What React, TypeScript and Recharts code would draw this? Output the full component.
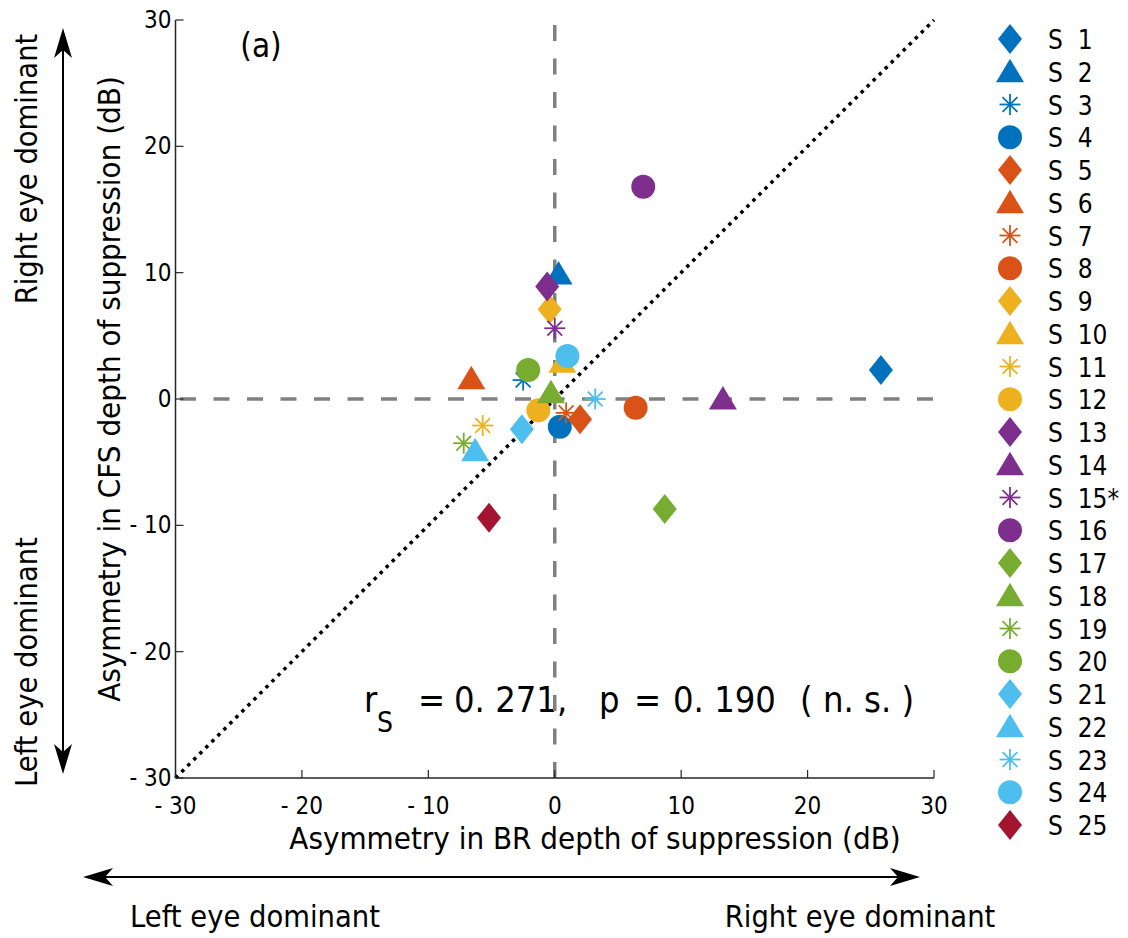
import { ScatterChart, Scatter, XAxis, YAxis, ReferenceLine } from "recharts";

const subjects = [
  "S  1", "S  2", "S  3", "S  4", "S  5", "S  6", "S  7", "S  8", "S  9", "S  10",
  "S  11", "S  12", "S  13", "S  14", "S  15*", "S  16", "S  17", "S  18", "S  19", "S  20",
  "S  21", "S  22", "S  23", "S  24", "S  25",
];
const asymBR = [
  25.8, 0.3, -2.5, 0.4, 2.0, -6.6, 0.9, 6.4, -0.4, 0.6,
  -5.7, -1.3, -0.6, 13.3, 0.0, 7.0, 8.7, -0.3, -7.2, -2.1,
  -2.6, -6.3, 3.2, 1.0, -5.2,
];
const asymCFS = [
  2.3, 9.9, 1.5, -2.2, -1.6, 1.6, -1.1, -0.7, 7.1, 2.9,
  -2.1, -0.9, 8.9, 0.0, 5.6, 16.8, -8.7, 0.5, -3.5, 2.3,
  -2.4, -4.1, 0.0, 3.4, -9.4,
];
const colors = [
  "#0072BD", "#0072BD", "#0072BD", "#0072BD",
  "#D95319", "#D95319", "#D95319", "#D95319",
  "#EDB120", "#EDB120", "#EDB120", "#EDB120",
  "#7E2F8E", "#7E2F8E", "#7E2F8E", "#7E2F8E",
  "#77AC30", "#77AC30", "#77AC30", "#77AC30",
  "#4DBEEE", "#4DBEEE", "#4DBEEE", "#4DBEEE",
  "#A2142F",
];
const markers = [
  "diamond", "triangle", "asterisk", "circle",
  "diamond", "triangle", "asterisk", "circle",
  "diamond", "triangle", "asterisk", "circle",
  "diamond", "triangle", "asterisk", "circle",
  "diamond", "triangle", "asterisk", "circle",
  "diamond", "triangle", "asterisk", "circle",
  "diamond",
];
const axisTicks = [-30, -20, -10, 0, 10, 20, 30];

const FONT = "'DejaVu Sans Condensed', 'DejaVu Sans', sans-serif";
const AXIS_COLOR = "#262626";

function Marker({ kind, cx, cy, color }: { kind: string; cx: number; cy: number; color: string }) {
  if (kind === "diamond") {
    return <polygon points={`${cx},${cy - 15} ${cx + 12},${cy} ${cx},${cy + 15} ${cx - 12},${cy}`} fill={color} />;
  }
  if (kind === "triangle") {
    return <polygon points={`${cx},${cy - 13} ${cx + 14},${cy + 10.5} ${cx - 14},${cy + 10.5}`} fill={color} />;
  }
  if (kind === "circle") {
    return <circle cx={cx} cy={cy} r={12} fill={color} />;
  }
  const r = 10.5;
  const d = r * 0.7071;
  return (
    <g stroke={color} strokeWidth={1.8}>
      <line x1={cx} y1={cy - r} x2={cx} y2={cy + r} />
      <line x1={cx - r} y1={cy} x2={cx + r} y2={cy} />
      <line x1={cx - d} y1={cy - d} x2={cx + d} y2={cy + d} />
      <line x1={cx - d} y1={cy + d} x2={cx + d} y2={cy - d} />
    </g>
  );
}

const fmt = (v: number) => (v < 0 ? `- ${Math.abs(v)}` : `${v}`);

function XTick(props: any) {
  const { x, y, payload } = props;
  return (
    <g>
      <line x1={x} y1={y} x2={x} y2={y - 8} stroke={AXIS_COLOR} strokeWidth={1.2} />
      <text x={x} y={y + 28} textAnchor="middle" dominantBaseline="central" fontSize={24} fontFamily={FONT} fill="#000">
        {fmt(payload.value)}
      </text>
    </g>
  );
}

function YTick(props: any) {
  const { x, y, payload } = props;
  return (
    <g>
      <line x1={x} y1={y} x2={x + 8} y2={y} stroke={AXIS_COLOR} strokeWidth={1.2} />
      <text x={x - 4} y={y} textAnchor="end" dominantBaseline="central" fontSize={24} fontFamily={FONT} fill="#000">
        {fmt(payload.value)}
      </text>
    </g>
  );
}

function ArrowHead({ x, y, angle }: { x: number; y: number; angle: number }) {
  return (
    <path
      d="M0,0 L-30,-9 L-22,0 L-30,9 Z"
      fill="#000"
      transform={`translate(${x},${y}) rotate(${angle})`}
    />
  );
}

export default function App() {
  return (
    <div style={{ position: "absolute", left: 0, top: 0, width: 1128, height: 938, background: "#fff" }}>
      <svg width={1128} height={938} style={{ position: "absolute", left: 0, top: 0 }} fontFamily={FONT}>
        <text x={261} y={45} fontSize={33} textAnchor="middle" dominantBaseline="central">(a)</text>

        <text y={712} fontSize={36} style={{ whiteSpace: "pre" }}>
          <tspan x={364}>r</tspan>
          <tspan x={377} dy={20} fontSize={28}>S</tspan>
          <tspan x={418} dy={-20}>=</tspan>
          <tspan x={454}>0. 271,</tspan>
          <tspan x={599}>p</tspan>
          <tspan x={634}>=</tspan>
          <tspan x={673}>0. 190</tspan>
          <tspan x={800}>( n. s. )</tspan>
        </text>

        <text x={595} y={838} fontSize={31} textAnchor="middle" dominantBaseline="central">
          Asymmetry in BR depth of suppression (dB)
        </text>
        <text transform="translate(109,389) rotate(-90)" fontSize={31} textAnchor="middle" dominantBaseline="central">
          Asymmetry in CFS depth of suppression (dB)
        </text>

        <line x1={63} y1={40} x2={63} y2={762} stroke="#000" strokeWidth={2} />
        <ArrowHead x={63} y={28} angle={-90} />
        <ArrowHead x={63} y={774} angle={90} />
        <text transform="translate(26,169) rotate(-90)" fontSize={30.5} textAnchor="middle" dominantBaseline="central">
          Right eye dominant
        </text>
        <text transform="translate(26,662) rotate(-90)" fontSize={30.5} textAnchor="middle" dominantBaseline="central">
          Left eye dominant
        </text>

        <line x1={95} y1={877} x2={908} y2={877} stroke="#000" strokeWidth={2} />
        <ArrowHead x={83} y={877} angle={180} />
        <ArrowHead x={920} y={877} angle={0} />
        <text x={255} y={916} fontSize={30.5} textAnchor="middle" dominantBaseline="central">Left eye dominant</text>
        <text x={860} y={916} fontSize={30.5} textAnchor="middle" dominantBaseline="central">Right eye dominant</text>

        {subjects.map((s, i) => (
          <g key={s}>
            <Marker kind={markers[i]} cx={1010} cy={39 + i * 32.75} color={colors[i]} />
            <text x={1048} y={40 + i * 32.75} fontSize={26} dominantBaseline="central" style={{ whiteSpace: "pre" }}>
              {s}
            </text>
          </g>
        ))}
      </svg>

      <div style={{ position: "absolute", left: 0, top: 0 }}>
        <ScatterChart width={1128} height={938} margin={{ top: 20, right: 194, bottom: 100, left: 115.5 }}>
          <XAxis
            type="number"
            dataKey="x"
            domain={[-30, 30]}
            ticks={axisTicks}
            interval={0}
            height={60}
            tickSize={0}
            tickMargin={0}
            tickLine={false}
            axisLine={{ stroke: AXIS_COLOR, strokeWidth: 1.5 }}
            tick={<XTick />}
            allowDataOverflow
          />
          <YAxis
            type="number"
            dataKey="y"
            domain={[-30, 30]}
            ticks={axisTicks}
            interval={0}
            width={60}
            tickSize={0}
            tickMargin={0}
            tickLine={false}
            axisLine={{ stroke: AXIS_COLOR, strokeWidth: 1.5 }}
            tick={<YTick />}
            allowDataOverflow
          />
          <ReferenceLine x={0} stroke="#808080" strokeWidth={3.5} strokeDasharray="16 17.5" />
          <ReferenceLine y={0} stroke="#808080" strokeWidth={3.5} strokeDasharray="16 17.5" strokeDashoffset={29} />
          <ReferenceLine
            segment={[{ x: -30, y: -30 }, { x: 30, y: 30 }]}
            stroke="#000"
            strokeWidth={3.5}
            strokeDasharray="3.5 5"
          />
          {subjects.map((s, i) => (
            <Scatter
              key={s}
              name={s}
              data={[{ x: asymBR[i], y: asymCFS[i] }]}
              fill={colors[i]}
              isAnimationActive={false}
              shape={(p: any) => <Marker kind={markers[i]} cx={p.cx} cy={p.cy} color={colors[i]} />}
            />
          ))}
        </ScatterChart>
      </div>
    </div>
  );
}
